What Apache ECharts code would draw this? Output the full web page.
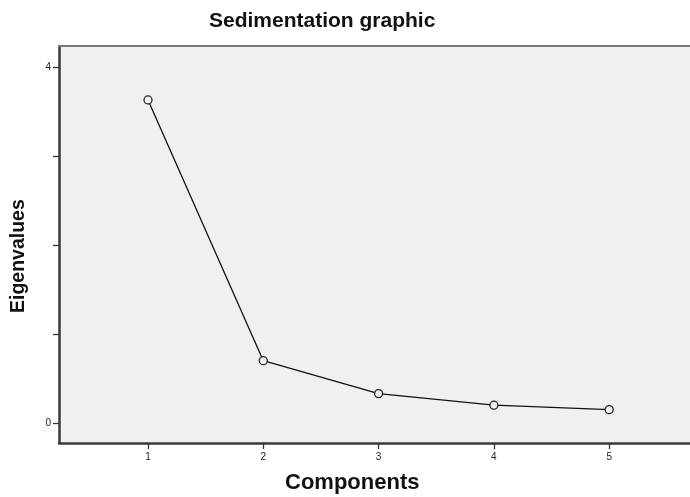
<!DOCTYPE html>
<html>
<head>
<meta charset="utf-8">
<script src="https://cdn.jsdelivr.net/npm/echarts@6/dist/echarts.min.js"></script>
<style>html,body{margin:0;padding:0;background:#fff}#c{width:690px;height:497px}</style>
</head>
<body>
<div id="c"></div>
<script>
const components = [1, 2, 3, 4, 5];
const eigenvalues = [3.63, 0.70, 0.33, 0.20, 0.15];
const yTicks = [0, 1, 2, 3, 4];
const yLabels = [0, 4];
const xTicks = [1, 2, 3, 4, 5];

const chart = echarts.init(document.getElementById('c'));
const FONT = 'Liberation Sans, Arial, sans-serif';
const XMIN = 0.228, XMAX = 5.701;
chart.setOption({
  animation: false,
  backgroundColor: '#fff',
  title: {
    text: 'Sedimentation graphic',
    left: 204, top: 6,
    textStyle: { fontFamily: FONT, fontSize: 21, fontWeight: 'bold', color: '#111' }
  },
  grid: {
    left: 59, top: 46, right: 0, bottom: 54,
    show: true, backgroundColor: '#f0f0f0', borderWidth: 0
  },
  xAxis: [{
    type: 'value', min: XMIN, max: XMAX,
    splitLine: { show: false },
    axisLine: { show: true, onZero: false, lineStyle: { color: '#3a3a3a', width: 2.5 } },
    axisTick: { show: true, length: 6, customValues: xTicks, lineStyle: { color: '#333', width: 1.3 } },
    axisLabel: { customValues: xTicks, fontFamily: FONT, fontSize: 10, color: '#222', margin: 9 }
  }, {
    type: 'value', min: XMIN, max: XMAX, position: 'top',
    splitLine: { show: false },
    axisLine: { show: true, onZero: false, lineStyle: { color: '#777', width: 2 } },
    axisTick: { show: false }, axisLabel: { show: false }
  }],
  yAxis: {
    type: 'value', min: -0.225, max: 4.236,
    splitLine: { show: false },
    axisLine: { show: true, onZero: false, lineStyle: { color: '#3a3a3a', width: 2.5 } },
    axisTick: { show: true, length: 6, customValues: yTicks, lineStyle: { color: '#333', width: 1.3 } },
    axisLabel: { customValues: yLabels, fontFamily: FONT, fontSize: 10, color: '#222', margin: 8 }
  },
  graphic: [
    { type: 'text', left: 285, top: 472,
      style: { text: 'Components', font: 'bold 22px ' + FONT, fill: '#111' } },
    { type: 'text', x: 9, y: 313, rotation: Math.PI / 2,
      style: { text: 'Eigenvalues', font: 'bold 19.5px ' + FONT, fill: '#111' } }
  ],
  series: [{
    type: 'line',
    xAxisIndex: 0,
    data: components.map((c, i) => [c, eigenvalues[i]]),
    symbol: 'circle', symbolSize: 8,
    lineStyle: { color: '#111', width: 1.3 },
    itemStyle: { color: '#f0f0f0', borderColor: '#222', borderWidth: 1.3 }
  }]
});
</script>
</body>
</html>
